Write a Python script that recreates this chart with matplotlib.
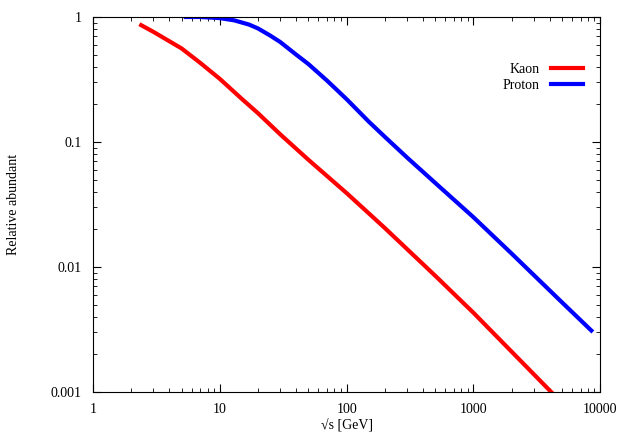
import matplotlib
matplotlib.use("Agg")
import matplotlib.pyplot as plt
from matplotlib.ticker import FixedLocator, FixedFormatter, LogLocator, NullFormatter

plt.rcParams["font.family"] = "Liberation Serif"
plt.rcParams["font.size"] = 10

kaon_s = [2.4, 3.0, 4.0, 5.0, 7.0, 10, 15, 20, 30, 50, 100, 200, 500, 1000, 2000, 4100]
kaon_y = [0.86, 0.76, 0.64, 0.56, 0.43, 0.32, 0.22, 0.17, 0.115, 0.072, 0.039, 0.0205, 0.0085, 0.0043, 0.0021, 0.001]
proton_s = [5.4, 7, 10, 13, 17, 20, 25, 30, 40, 50, 70, 100, 150, 200, 300, 500, 1000, 2000, 5000, 8500]
proton_y = [1.0, 1.0, 0.98, 0.94, 0.87, 0.81, 0.71, 0.63, 0.5, 0.42, 0.31, 0.22, 0.145, 0.11, 0.075, 0.047, 0.025, 0.0128, 0.0052, 0.0031]

fig = plt.figure(figsize=(6.24, 4.36), dpi=100)
ax = fig.add_axes([0.149, 0.101, 0.813, 0.86])
ax.plot(kaon_s, kaon_y, color="#ff0000", lw=3, label="Kaon")
ax.plot(proton_s, proton_y, color="#0000ff", lw=3, label="Proton")
ax.set_xscale("log")
ax.set_yscale("log")
ax.set_xlim(1, 10000)
ax.set_ylim(0.001, 1)

xt = [1, 10, 100, 1000, 10000]
ax.xaxis.set_major_locator(FixedLocator(xt))
ax.xaxis.set_major_formatter(FixedFormatter([str(v) for v in xt]))
yt = [0.001, 0.01, 0.1, 1]
ax.yaxis.set_major_locator(FixedLocator(yt))
ax.yaxis.set_major_formatter(FixedFormatter(["0.001", "0.01", "0.1", "1"]))
for a in (ax.xaxis, ax.yaxis):
    a.set_minor_locator(LogLocator(base=10, subs=range(2, 10)))
    a.set_minor_formatter(NullFormatter())
ax.tick_params(which="both", direction="in", top=True, right=True)
ax.tick_params(which="major", length=6, pad=8)
ax.tick_params(which="minor", length=3)

ax.set_xlabel("√s [GeV]", labelpad=2)
ax.set_ylabel("Relative abundant", labelpad=22)
ax.legend(loc="upper right", bbox_to_anchor=(0.99, 0.91), frameon=False,
          markerfirst=False, handlelength=2.3, labelspacing=0.2)

plt.savefig("out.png", dpi=100)
